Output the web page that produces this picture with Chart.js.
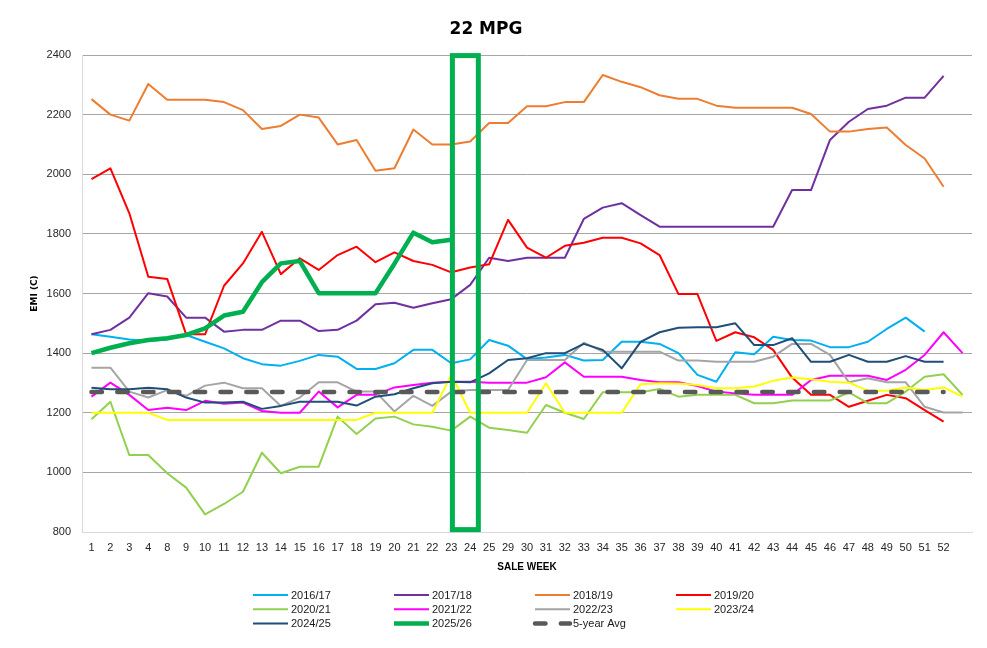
<!DOCTYPE html>
<html>
<head>
<meta charset="utf-8">
<title>22 MPG</title>
<script src="https://cdn.jsdelivr.net/npm/chart.js@4.4.1/dist/chart.umd.min.js"></script>
<style>
    html, body { margin: 0; padding: 0; background: #ffffff; }
    #chart-box { position: relative; width: 987px; height: 648px; }
</style>
</head>
<body>
<div id="chart-box"><canvas id="mpgChart"></canvas></div>
<script>
/*
 * 22 MPG - EMI by sale week, one line per season + 5-year average.
 */

// --- 1. DATA ---
const weeks = ['1', '2', '3', '4', '8', '9', '10', '11', '12', '13', '14', '15', '16', '17', '18', '19',
    '20', '21', '22', '23', '24', '25', '29', '30', '31', '32', '33', '34', '35', '36', '37', '38',
    '39', '40', '41', '42', '43', '44', '45', '46', '47', '48', '49', '50', '51', '52', ''];

const yTicks = [800, 1000, 1200, 1400, 1600, 1800, 2000, 2200, 2400];

const emi2016 = [1463, 1455, 1446, 1441, 1446, 1461, 1438, 1416, 1383, 1363, 1358, 1374, 1394, 1388, 1347,
    1347, 1366, 1411, 1411, 1366, 1379, 1444, 1425, 1380, 1385, 1394, 1375, 1377, 1438, 1438, 1431,
    1400, 1327, 1304, 1403, 1396, 1455, 1444, 1442, 1420, 1420, 1438, 1481, 1519, 1472];

const emi2017 = [1463, 1478, 1519, 1601, 1590, 1519, 1519, 1472, 1478, 1478, 1509, 1509, 1474, 1478, 1509,
    1564, 1569, 1552, 1567, 1581, 1629, 1720, 1709, 1720, 1720, 1720, 1850, 1888, 1903, 1863, 1824,
    1824, 1824, 1824, 1824, 1824, 1824, 1947, 1947, 2115, 2176, 2219, 2230, 2257, 2257, 2330];

const emi2018 = [2252, 2200, 2180, 2303, 2250, 2250, 2250, 2242, 2215, 2152, 2162, 2200, 2190, 2100, 2115,
    2012, 2020, 2150, 2100, 2100, 2110, 2172, 2172, 2228, 2228, 2242, 2242, 2333, 2310, 2292, 2265,
    2253, 2253, 2230, 2223, 2223, 2223, 2223, 2202, 2143, 2143, 2152, 2157, 2098, 2053, 1958];

const emi2019 = [1984, 2020, 1869, 1656, 1649, 1463, 1463, 1626, 1701, 1807, 1665, 1718, 1679, 1729, 1757,
    1705, 1738, 1709, 1696, 1671, 1687, 1698, 1847, 1754, 1720, 1760, 1770, 1787, 1787, 1768, 1729,
    1598, 1598, 1441, 1470, 1453, 1411, 1318, 1260, 1260, 1220, 1240, 1260, 1249, 1209, 1170];

const emi2020 = [1178, 1237, 1058, 1058, 997, 949, 859, 894, 935, 1066, 997, 1019, 1019, 1187, 1129,
    1181, 1187, 1161, 1153, 1140, 1187, 1150, 1142, 1133, 1226, 1200, 1179, 1269, 1269, 1269, 1280,
    1254, 1260, 1260, 1260, 1232, 1232, 1241, 1241, 1241, 1268, 1232, 1232, 1271, 1321, 1329, 1260];

const emi2021 = [1254, 1301, 1260, 1209, 1217, 1209, 1240, 1230, 1234, 1206, 1200, 1200, 1271, 1218, 1260,
    1260, 1285, 1293, 1301, 1304, 1304, 1301, 1301, 1301, 1319, 1369, 1321, 1321, 1321, 1310, 1302,
    1302, 1290, 1271, 1265, 1260, 1260, 1260, 1310, 1324, 1324, 1324, 1310, 1344, 1394, 1470, 1400];

const emi2022 = [1351, 1351, 1271, 1251, 1276, 1257, 1291, 1301, 1282, 1282, 1223, 1251, 1302, 1302, 1271,
    1271, 1204, 1257, 1223, 1271, 1276, 1276, 1276, 1377, 1377, 1377, 1435, 1405, 1405, 1405, 1405,
    1375, 1375, 1371, 1371, 1371, 1388, 1431, 1431, 1394, 1302, 1316, 1302, 1302, 1220, 1201, 1201];

const emi2023 = [1200, 1200, 1200, 1200, 1176, 1176, 1176, 1176, 1176, 1176, 1176, 1176, 1176, 1176, 1176,
    1200, 1200, 1200, 1200, 1327, 1200, 1200, 1200, 1200, 1299, 1200, 1200, 1200, 1200, 1296, 1299,
    1298, 1293, 1282, 1282, 1288, 1307, 1318, 1312, 1304, 1301, 1274, 1274, 1285, 1276, 1285, 1254];

const emi2024 = [1284, 1279, 1279, 1284, 1279, 1251, 1234, 1234, 1237, 1213, 1223, 1237, 1237, 1237, 1224,
    1254, 1262, 1282, 1299, 1304, 1302, 1332, 1377, 1383, 1400, 1400, 1431, 1411, 1349, 1438, 1470,
    1485, 1487, 1487, 1500, 1427, 1427, 1450, 1371, 1371, 1394, 1371, 1371, 1390, 1371, 1371];

const emi2025 = [1400, 1418, 1433, 1444, 1450, 1461, 1483, 1526, 1539, 1638, 1701, 1709, 1601, 1601, 1601,
    1601, 1700, 1804, 1772, 1780];

const avg5yr = [1270, 1270, 1270, 1270, 1270, 1270, 1270, 1270, 1270, 1270, 1270, 1270, 1270, 1270, 1270,
    1270, 1270, 1270, 1270, 1270, 1270, 1270, 1270, 1270, 1270, 1270, 1270, 1270, 1270, 1270, 1270,
    1270, 1270, 1270, 1270, 1270, 1270, 1270, 1270, 1270, 1270, 1270, 1270, 1270, 1270, 1270];

const seasonLabels = ['2016/17', '2017/18', '2018/19', '2019/20', '2020/21', '2021/22',
    '2022/23', '2023/24', '2024/25', '2025/26', '5-year Avg'];
const seasonData = [emi2016, emi2017, emi2018, emi2019, emi2020, emi2021,
    emi2022, emi2023, emi2024, emi2025, avg5yr];
const seasonColors = ['#00B0F0', '#7030A0', '#ED7D31', '#FF0000', '#92D050', '#FF00FF',
    '#A5A5A5', '#FFFF00', '#1F4E79', '#00B050', '#595959'];

// highlighted weeks (23-24) box, in category units
const boxWeeks = [19.06, 20.43];
const boxEmi = [808, 2398];

document.addEventListener('DOMContentLoaded', () => {

    // --- 2. PLUGINS ---

    // green box round the current sale weeks
    const weekBox = {
        id: 'weekBox',
        afterDatasetsDraw(chart) {
            const { ctx, scales: { x, y } } = chart;
            const x1 = x.getPixelForValue(boxWeeks[0]);
            const x2 = x.getPixelForValue(boxWeeks[1]);
            const y1 = y.getPixelForValue(boxEmi[1]);
            const y2 = y.getPixelForValue(boxEmi[0]);
            ctx.save();
            ctx.strokeStyle = '#00B050';
            ctx.lineWidth = 5;
            ctx.strokeRect(x1, y1, x2 - x1, y2 - y1);
            ctx.restore();
        }
    };

    // legend laid out in a 4 column grid like the Excel one
    const gridLegend = {
        id: 'gridLegend',
        afterDraw(chart) {
            const ctx = chart.ctx;
            ctx.save();
            chart.data.datasets.forEach((ds, i) => {
                const col = i % 4;
                const row = Math.floor(i / 4);
                const x = 253 + col * 141;
                const y = 595 + row * 14.3;
                ctx.beginPath();
                ctx.strokeStyle = ds.borderColor;
                ctx.lineWidth = ds.borderWidth;
                ctx.lineCap = ds.borderCapStyle || 'butt';
                ctx.setLineDash(ds.borderDash || []);
                ctx.moveTo(x, y);
                ctx.lineTo(x + 35, y);
                ctx.stroke();
                ctx.setLineDash([]);
                ctx.fillStyle = '#1a1a1a';
                ctx.font = "11px 'Liberation Sans', Arial, sans-serif";
                ctx.textBaseline = 'middle';
                ctx.textAlign = 'left';
                ctx.fillText(ds.label, x + 38, y + 0.5);
            });
            ctx.restore();
        }
    };

    // --- 3. CHART ---
    Chart.defaults.font.family = "'Liberation Sans', Arial, sans-serif";
    Chart.defaults.color = '#262626';

    const datasets = seasonLabels.map((name, i) => {
        const isAvg = name === '5-year Avg';
        const isNow = name === '2025/26';
        return {
            label: name,
            data: seasonData[i],
            borderColor: seasonColors[i],
            backgroundColor: seasonColors[i],
            borderWidth: isAvg || isNow ? 4.5 : 2,
            borderDash: isAvg ? [10.5, 15.3] : [],
            borderCapStyle: isAvg ? 'round' : 'butt',
            borderJoinStyle: 'round',
            pointRadius: 0,
            pointHoverRadius: 0,
            tension: 0,
            fill: false,
            order: -i
        };
    });

    const ctx = document.getElementById('mpgChart').getContext('2d');
    new Chart(ctx, {
        type: 'line',
        data: { labels: weeks, datasets: datasets },
        options: {
            responsive: true,
            maintainAspectRatio: false,
            animation: false,
            layout: { padding: { left: 0, right: 15, top: 0, bottom: 71 } },
            plugins: {
                legend: { display: false },
                tooltip: { enabled: false },
                title: {
                    display: true,
                    text: '22 MPG',
                    color: '#000000',
                    font: { family: "'DejaVu Sans', sans-serif", size: 17, weight: 'bold' },
                    padding: { top: 19.3, bottom: 15.3 }
                }
            },
            scales: {
                x: {
                    offset: true,
                    grid: { display: false, drawTicks: false },
                    border: { display: true, color: '#D9D9D9', width: 1 },
                    ticks: {
                        autoSkip: false,
                        maxRotation: 0,
                        padding: 9,
                        color: '#262626',
                        font: { size: 11 }
                    },
                    title: {
                        display: true,
                        text: 'SALE WEEK',
                        color: '#000000',
                        font: { size: 10, weight: 'bold' },
                        padding: { top: 0, bottom: 4 }
                    },
                    afterFit: (scale) => { scale.height = 45; }
                },
                y: {
                    min: yTicks[0],
                    max: yTicks[yTicks.length - 1],
                    afterBuildTicks: (scale) => { scale.ticks = yTicks.map(v => ({ value: v })); },
                    grid: {
                        drawTicks: false,
                        color: (c) => c.tick && c.tick.value === yTicks[0] ? '#D9D9D9' : '#A6A6A6',
                        lineWidth: 1
                    },
                    border: { display: true, color: '#D9D9D9', width: 1 },
                    ticks: {
                        padding: 11,
                        color: '#262626',
                        font: { size: 11 },
                        callback: (v) => String(v)
                    },
                    title: {
                        display: true,
                        text: 'EMI (C)',
                        color: '#000000',
                        font: { family: "'DejaVu Sans', sans-serif", size: 9, weight: 'bold' },
                        padding: { top: 29.6, bottom: 0 }
                    },
                    afterFit: (scale) => { scale.width = 82; }
                }
            }
        },
        plugins: [weekBox, gridLegend]
    });
});
</script>
</body>
</html>
